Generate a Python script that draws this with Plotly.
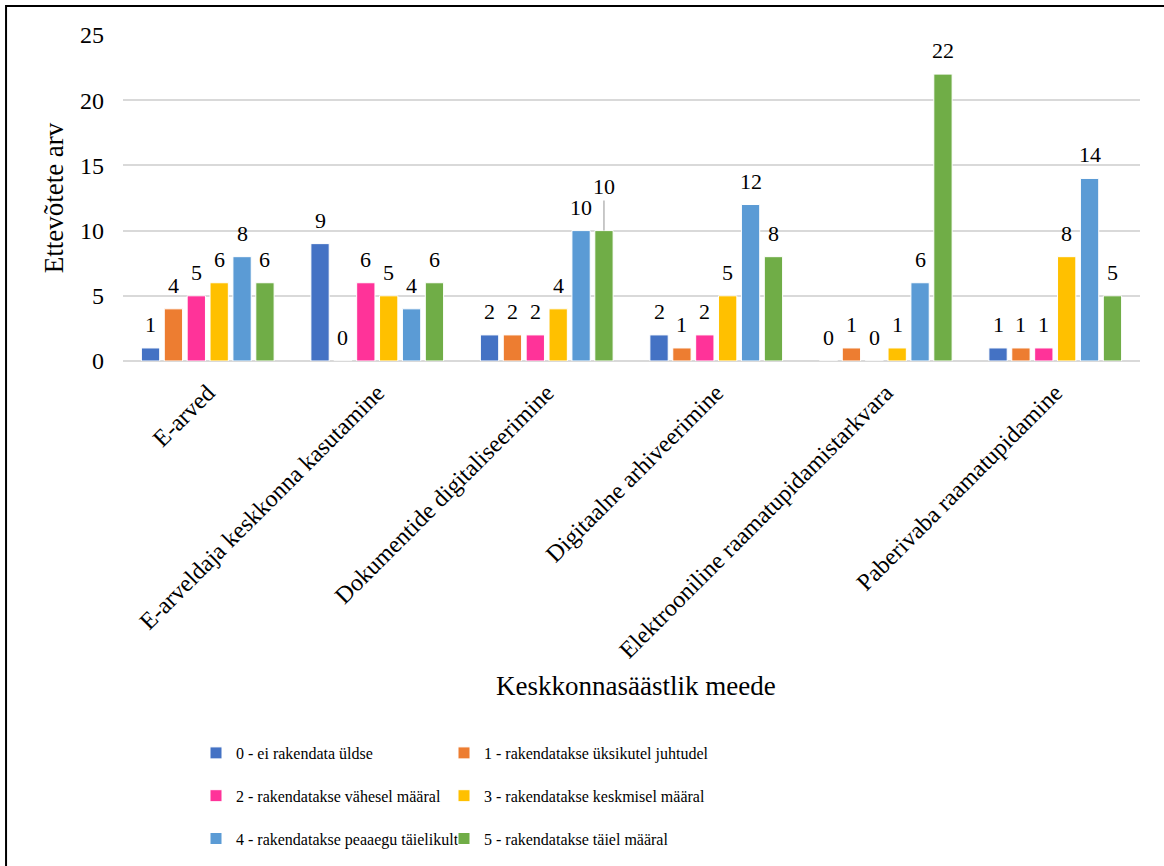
import plotly.graph_objects as go

categories = [
    "E-arved",
    "E-arveldaja keskkonna kasutamine",
    "Dokumentide digitaliseerimine",
    "Digitaalne arhiveerimine",
    "Elektrooniline raamatupidamistarkvara",
    "Paberivaba raamatupidamine",
]
series_names = [
    "0 - ei rakendata üldse",
    "1 - rakendatakse üksikutel juhtudel",
    "2 - rakendatakse vähesel määral",
    "3 - rakendatakse keskmisel määral",
    "4 - rakendatakse peaaegu täielikult",
    "5 - rakendatakse täiel määral",
]
values_0 = [1, 9, 2, 2, 0, 1]
values_1 = [4, 0, 2, 1, 1, 1]
values_2 = [5, 6, 2, 2, 0, 1]
values_3 = [6, 5, 4, 5, 1, 8]
values_4 = [8, 4, 10, 12, 6, 14]
values_5 = [6, 6, 10, 8, 22, 5]
all_values = [values_0, values_1, values_2, values_3, values_4, values_5]
colors = ["#4472C4", "#ED7D31", "#FF3399", "#FFC000", "#5B9BD5", "#70AD47"]
y_ticks = [0, 5, 10, 15, 20, 25]

FONT = "Liberation Serif"

# label moved out with a leader line in the original
moved_label = (5, 2)  # series index, category index

W, H, L, R, T, B = 1164, 866, 123, 24, 35, 505
plot_w = W - L - R
plot_h = H - T - B
cat_w = plot_w / len(categories)
bargap = 0.19
group_w = cat_w * (1 - bargap)
slot = group_w / 6

fig = go.Figure()
for si, (name, vals, col) in enumerate(zip(series_names, all_values, colors)):
    fig.add_trace(go.Bar(
        x=categories, y=vals, name=name,
        marker=dict(color=col, line=dict(color="white", width=1)),
        legend="legend" if si % 2 == 0 else "legend2",
        legendgroup=f"g{si}",
    ))
    xshift = -group_w / 2 + slot * (si + 0.5)
    for ci, (cat, v) in enumerate(zip(categories, vals)):
        if (si, ci) == moved_label:
            fig.add_annotation(
                x=cat, y=v, text=str(v), xshift=xshift,
                showarrow=True, arrowhead=0, arrowwidth=1.2,
                arrowcolor="#a6a6a6", ax=0, ay=-30, yanchor="bottom",
                font=dict(family=FONT, size=22, color="black"),
            )
        else:
            fig.add_annotation(
                x=cat, y=v, text=str(v), xshift=xshift, yshift=9,
                showarrow=False, yanchor="bottom",
                font=dict(family=FONT, size=22, color="black"),
            )

# outer frame (only top and left visible in the original crop)
fig.add_shape(type="rect", xref="paper", yref="paper",
              x0=-0.115, x1=1.06, y0=-1.7, y1=1.089,
              line=dict(color="black", width=2), layer="above")

leg_bottom = -(856 - (H - B)) / plot_h
fig.update_layout(
    width=W, height=H,
    margin=dict(l=L, r=R, t=T, b=B, autoexpand=False),
    paper_bgcolor="white", plot_bgcolor="white",
    barmode="group", bargap=bargap, bargroupgap=0.2,
    font=dict(family=FONT, size=20, color="black"),
    showlegend=True,
    legend=dict(x=(196 - L) / plot_w, xanchor="left", y=leg_bottom, yanchor="bottom",
                orientation="v", font=dict(family=FONT, size=16),
                tracegroupgap=19, itemwidth=30, bgcolor="rgba(0,0,0,0)"),
    legend2=dict(x=(444 - L) / plot_w, xanchor="left", y=leg_bottom, yanchor="bottom",
                 orientation="v", font=dict(family=FONT, size=16),
                 tracegroupgap=19, itemwidth=30, bgcolor="rgba(0,0,0,0)"),
)
fig.update_xaxes(
    tickangle=-45, automargin=False, showgrid=False, showline=False,
    ticks="", ticklabelstandoff=12,
    tickfont=dict(family=FONT, size=24),
)
fig.update_yaxes(
    range=[0, 25], tickvals=y_ticks, automargin=False,
    showgrid=True, gridcolor="#d9d9d9", gridwidth=1.5,
    zeroline=True, zerolinecolor="#d9d9d9", zerolinewidth=1.5,
    showline=False, ticks="", ticklabelstandoff=18,
    tickfont=dict(family=FONT, size=24),
    title=dict(text="Ettevõtete arv", font=dict(family=FONT, size=27), standoff=8),
)
fig.add_annotation(text="Keskkonnasäästlik meede", xref="paper", yref="paper",
                   x=(636 - L) / plot_w, y=-(686 - (H - B)) / plot_h,
                   xanchor="center", yanchor="middle", showarrow=False,
                   font=dict(family=FONT, size=27, color="black"))

fig.write_html("out.html")
